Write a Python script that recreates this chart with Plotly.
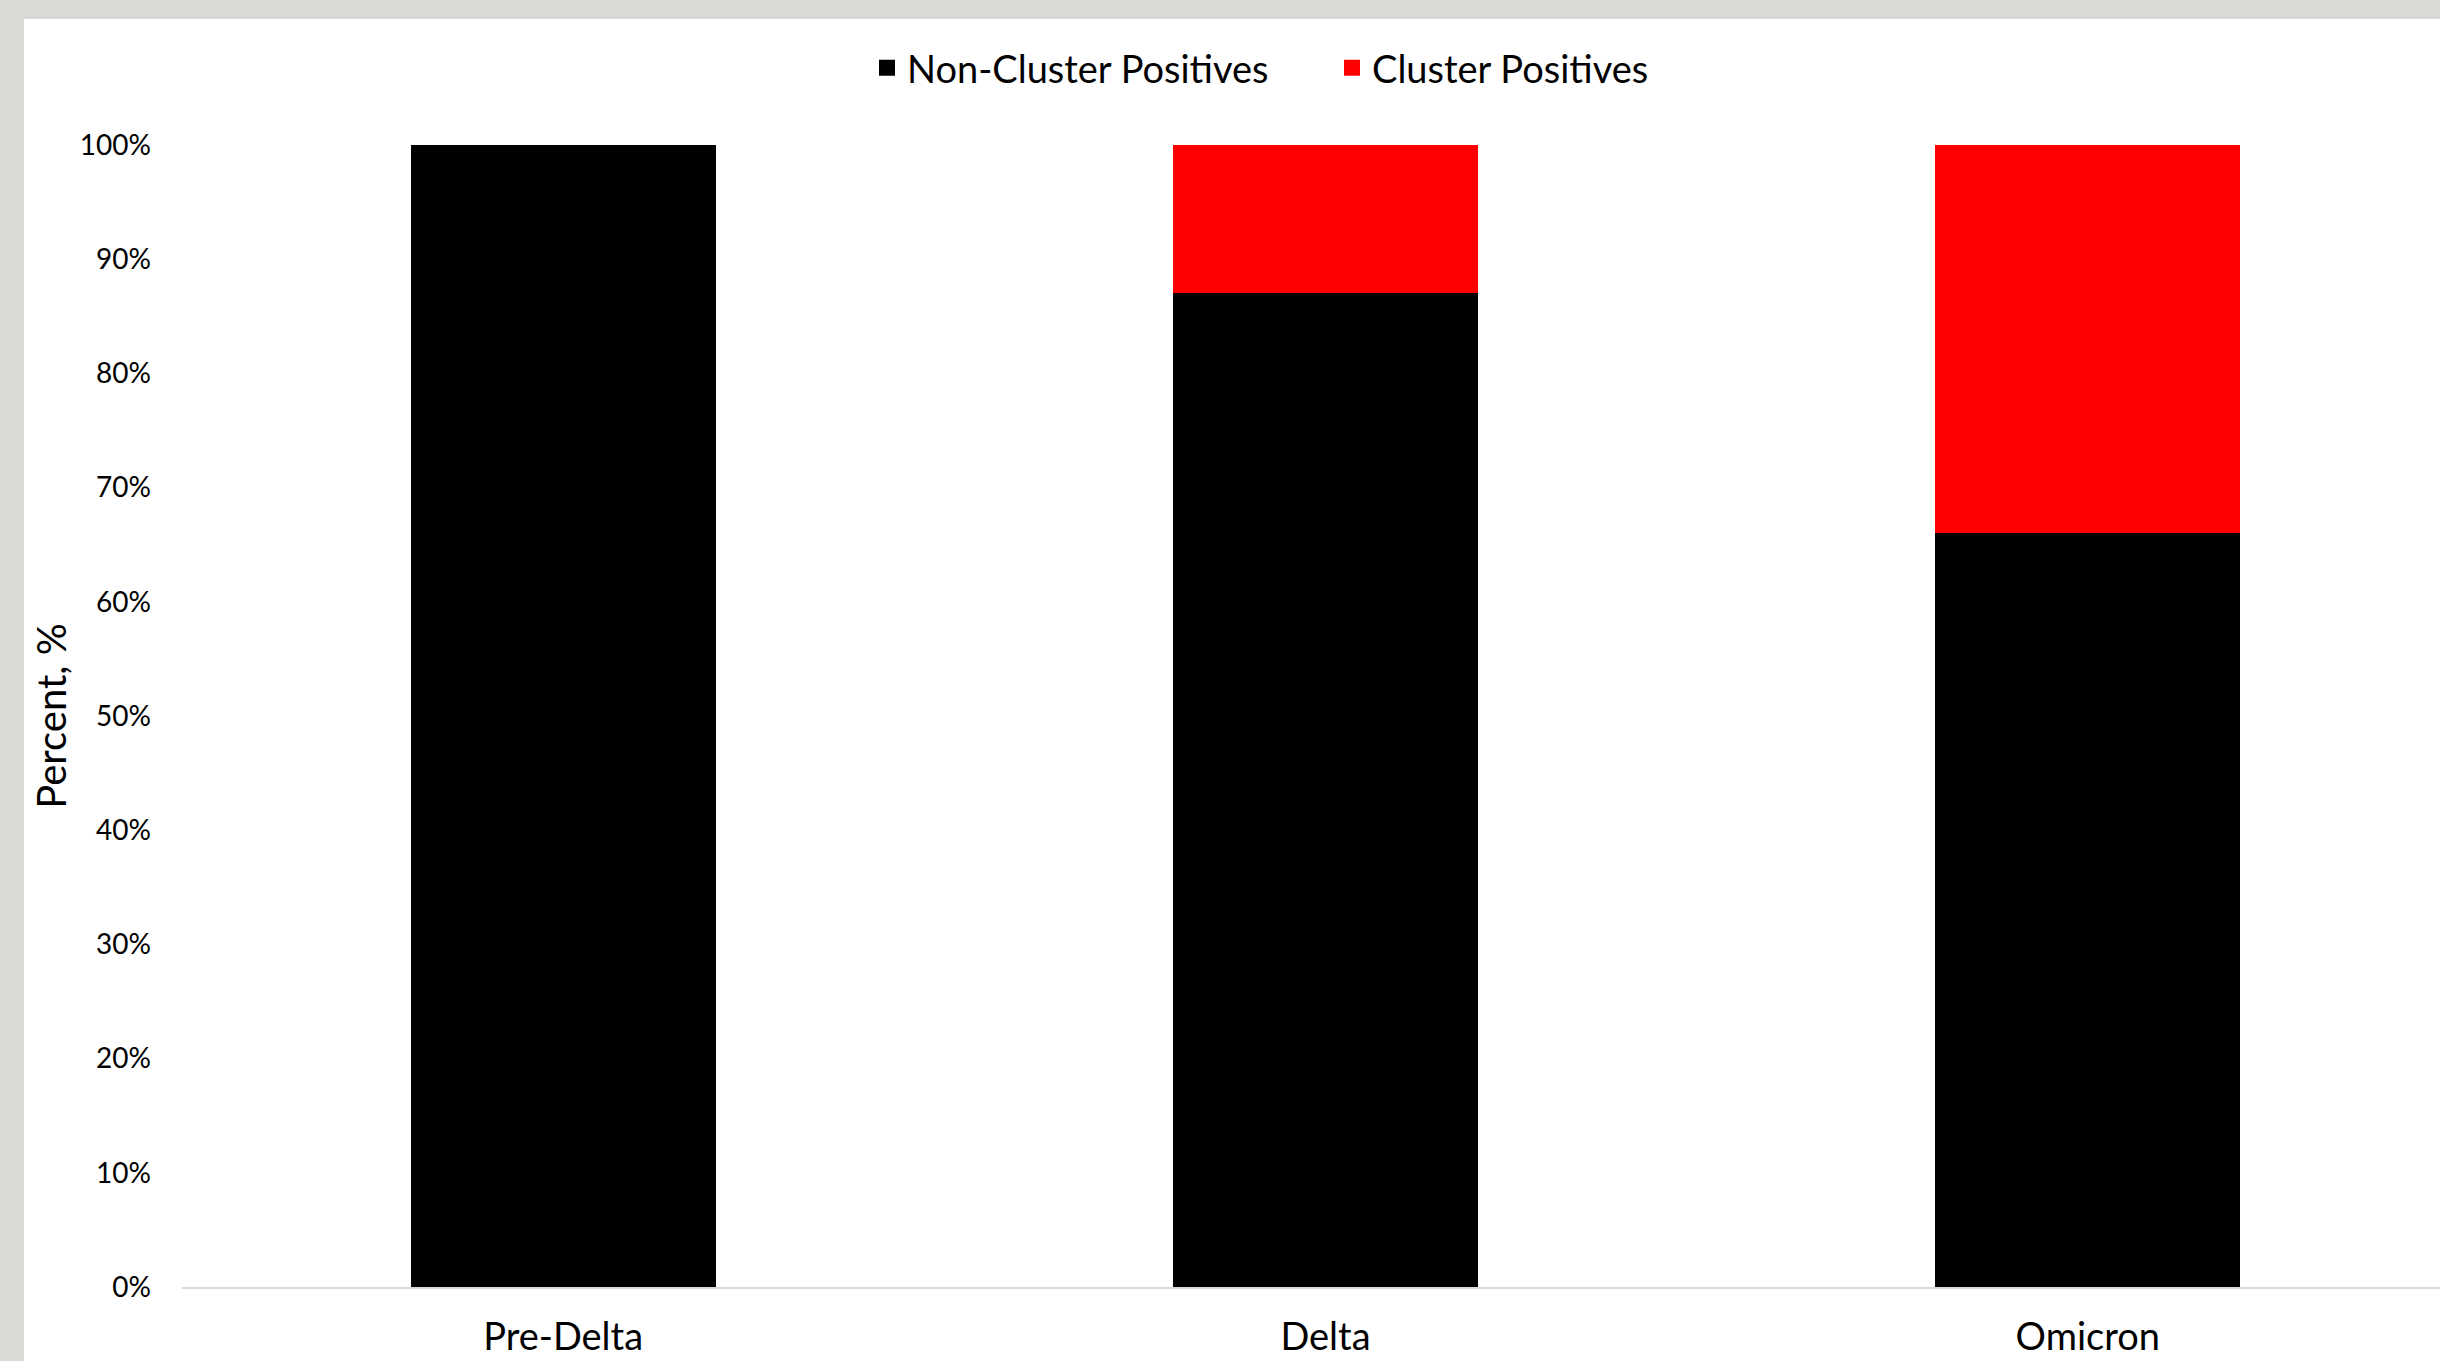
import plotly.graph_objects as go

categories = ["Pre-Delta", "Delta", "Omicron"]
non_cluster = [100, 87, 66]
cluster = [0, 13, 34]
y_ticks = [0, 10, 20, 30, 40, 50, 60, 70, 80, 90, 100]
y_tick_text = [f"{v}%" for v in y_ticks]

W, H = 2440, 1361
ML, MR, MT, MB = 182, 0, 145, 74
PW, PH = W - ML - MR, H - MT - MB
FONT = "Lato"
GRAY = "#D9DAD5"

def px_x(p):
    return (p - ML) / PW

def px_y(q):
    return (H - MB - q) / PH

fig = go.Figure()
fig.add_trace(go.Bar(x=categories, y=non_cluster, name="Non-Cluster Positives",
                     marker=dict(color="#000000", line=dict(width=0)), showlegend=False,
                     legendgroup="nc"))
fig.add_trace(go.Bar(x=categories, y=cluster, name="Cluster Positives",
                     marker=dict(color="#FF0000", line=dict(width=0)), showlegend=False,
                     legendgroup="c"))
# legend entries with larger square symbols
fig.add_trace(go.Scatter(x=[None], y=[None], mode="markers", name="Non-Cluster Positives",
                         marker=dict(symbol="square", size=23, color="#000000"),
                         legendgroup="nc"))
fig.add_trace(go.Scatter(x=[None], y=[None], mode="markers", name="Cluster Positives",
                         marker=dict(symbol="square", size=23, color="#FF0000"),
                         legendgroup="c"))

fig.update_layout(
    width=W, height=H,
    margin=dict(l=ML, r=MR, t=MT, b=MB, autoexpand=False),
    barmode="stack", bargap=0.6,
    paper_bgcolor="white", plot_bgcolor="white",
    font=dict(family=FONT, color="#000000"),
    showlegend=True,
    legend=dict(orientation="h", x=px_x(867), xanchor="left",
                y=px_y(68), yanchor="middle", itemsizing="trace",
                font=dict(size=38, family=FONT, color="#000000"),
                entrywidth=420, traceorder="normal",
                bgcolor="rgba(0,0,0,0)"),
    xaxis=dict(type="category", range=[-0.5, 2.462], showline=True, linecolor="#D9D9D9", linewidth=2,
               showgrid=False, zeroline=False, ticks="",
               tickfont=dict(size=38, family=FONT, color="#000000"),
               ticklabelstandoff=15, fixedrange=True),
    yaxis=dict(range=[0, 100], tickmode="array", tickvals=y_ticks, ticktext=y_tick_text,
               showgrid=False, zeroline=False, showline=False, ticks="",
               tickfont=dict(size=28, family=FONT, color="#000000"),
               ticklabelstandoff=30,
               title=dict(text="Percent, %", font=dict(size=40, family=FONT, color="#000000"),
                          standoff=0)),
    shapes=[
        dict(type="rect", xref="paper", yref="paper", layer="above",
             x0=px_x(-10), x1=px_x(W + 10), y0=px_y(19), y1=px_y(-10),
             fillcolor=GRAY, line=dict(width=0)),
        dict(type="rect", xref="paper", yref="paper", layer="above",
             x0=px_x(-10), x1=px_x(24), y0=px_y(H + 10), y1=px_y(-10),
             fillcolor=GRAY, line=dict(width=0)),
    ],
)

fig.write_html("out.html")
